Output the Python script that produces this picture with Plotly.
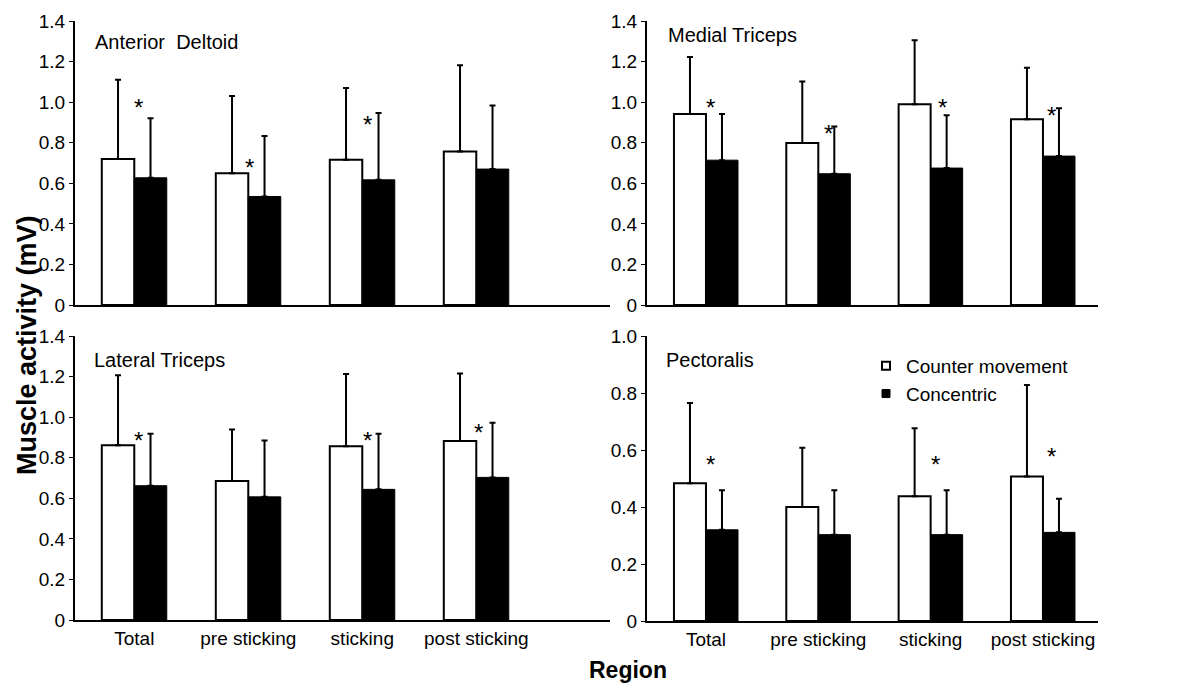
import plotly.graph_objects as go

# ---------------- data ----------------
regions = ["Total", "pre sticking", "sticking", "post sticking"]
muscles = ["Anterior\u00a0 Deltoid", "Medial Triceps", "Lateral Triceps", "Pectoralis"]

# Counter movement (white) means and upper SD, Concentric (black) means and upper SD
ad_cm = [0.72, 0.65, 0.716, 0.757]
ad_cm_sd = [0.39, 0.38, 0.354, 0.425]
ad_con = [0.627, 0.535, 0.617, 0.670]
ad_con_sd = [0.294, 0.298, 0.330, 0.314]

mt_cm = [0.942, 0.798, 0.990, 0.916]
mt_cm_sd = [0.280, 0.304, 0.315, 0.253]
mt_con = [0.714, 0.647, 0.675, 0.734]
mt_con_sd = [0.227, 0.233, 0.261, 0.236]

lt_cm = [0.862, 0.685, 0.856, 0.883]
lt_cm_sd = [0.345, 0.254, 0.357, 0.332]
lt_con = [0.662, 0.607, 0.644, 0.703]
lt_con_sd = [0.256, 0.278, 0.274, 0.269]

pe_cm = [0.483, 0.400, 0.438, 0.507]
pe_cm_sd = [0.282, 0.208, 0.238, 0.321]
pe_con = [0.320, 0.303, 0.303, 0.311]
pe_con_sd = [0.139, 0.156, 0.156, 0.118]

# significance markers: region index, star height, small shift along the category
ad_star_idx = [0, 1, 2]
ad_star_y = [1.01, 0.714, 0.926]
ad_star_dx = [0.04, 0.015, 0.047]
mt_star_idx = [0, 1, 2, 3]
mt_star_y = [1.01, 0.882, 1.01, 0.969]
mt_star_dx = [0.04, 0.09, 0.11, 0.076]
lt_star_idx = [0, 2, 3]
lt_star_y = [0.92, 0.92, 0.96]
lt_star_dx = [0.04, 0.046, 0.018]
pe_star_idx = [0, 2, 3]
pe_star_y = [0.575, 0.575, 0.603]
pe_star_dx = [0.04, 0.044, 0.076]

y_ticks_14 = [0, 0.2, 0.4, 0.6, 0.8, 1.0, 1.2, 1.4]
y_text_14 = ["0", "0.2", "0.4", "0.6", "0.8", "1.0", "1.2", "1.4"]
y_ticks_10 = [0, 0.2, 0.4, 0.6, 0.8, 1.0]
y_text_10 = ["0", "0.2", "0.4", "0.6", "0.8", "1.0"]

# ---------------- figure ----------------
W, H = 1198, 684
OX, OY = 8, 8  # page body margin compensation
FONT = "Arial, Liberation Sans, sans-serif"
BW = 0.285


def px_x(p):
    return (p - OX) / W


def px_y(p):
    return 1 - (p - OY) / H


panels = [
    (ad_cm, ad_cm_sd, ad_con, ad_con_sd, ad_star_idx, ad_star_y, ad_star_dx),
    (mt_cm, mt_cm_sd, mt_con, mt_con_sd, mt_star_idx, mt_star_y, mt_star_dx),
    (lt_cm, lt_cm_sd, lt_con, lt_con_sd, lt_star_idx, lt_star_y, lt_star_dx),
    (pe_cm, pe_cm_sd, pe_con, pe_con_sd, pe_star_idx, pe_star_y, pe_star_dx),
]

# pixel boxes: (x0, x1, ytop, ybottom)
boxes = [(75, 610, 21, 305), (647, 1098, 21, 305), (75, 610, 336, 620), (647, 1098, 336, 621)]
xranges = [[-0.52, 4.173], [-0.525, 3.49], [-0.52, 4.173], [-0.525, 3.49]]
yranges = [[0, 1.4], [0, 1.4], [0, 1.4], [0, 1.0]]

fig = go.Figure()
xcat = list(range(len(regions)))
annotations = []

for i, (cm, cmsd, con, consd, sidx, sy, sdx) in enumerate(panels):
    n = i + 1
    xa = "x" if n == 1 else f"x{n}"
    ya = "y" if n == 1 else f"y{n}"
    fig.add_trace(go.Bar(
        x=xcat, y=cm, width=BW, offset=-BW, xaxis=xa, yaxis=ya,
        marker=dict(color="white", line=dict(color="black", width=2)),
        error_y=dict(type="data", symmetric=False, array=cmsd, arrayminus=[0] * len(cm),
                     color="black", thickness=2, width=3),
        showlegend=False, name="Counter movement"))
    fig.add_trace(go.Bar(
        x=xcat, y=con, width=BW, offset=0, xaxis=xa, yaxis=ya,
        marker=dict(color="black", line=dict(color="black", width=1)),
        error_y=dict(type="data", symmetric=False, array=consd, arrayminus=[0] * len(con),
                     color="black", thickness=2, width=3),
        showlegend=False, name="Concentric"))
    for k, yv, dx in zip(sidx, sy, sdx):
        annotations.append(dict(x=xcat[k] + dx, y=yv, xref=xa, yref=ya, text="*",
                                showarrow=False, font=dict(size=24, color="black", family=FONT),
                                xanchor="center", yanchor="middle", yshift=-7))
    x0, x1, yt, yb = boxes[i]
    bottom = n >= 3
    ticks14 = yranges[i][1] > 1.2
    fig.update_layout(**{
        ("xaxis" if n == 1 else f"xaxis{n}"): dict(
            domain=[px_x(x0), px_x(x1)], range=xranges[i], anchor=ya,
            showline=True, linecolor="black", linewidth=2, showgrid=False, zeroline=False,
            tickmode="array", tickvals=xcat, ticktext=regions if bottom else [""] * 4,
            ticks="", showticklabels=bottom,
            tickfont=dict(size=19, color="black", family=FONT)),
        ("yaxis" if n == 1 else f"yaxis{n}"): dict(
            domain=[px_y(yb), px_y(yt)], range=yranges[i], anchor=xa,
            showline=True, linecolor="black", linewidth=2, showgrid=False, zeroline=False,
            tickmode="array",
            tickvals=y_ticks_14 if ticks14 else y_ticks_10,
            ticktext=y_text_14 if ticks14 else y_text_10,
            ticks="outside", ticklen=4, tickwidth=1, tickcolor="black",
            tickfont=dict(size=19, color="black", family=FONT)),
    })

# panel titles
title_pos = [(93, 42), (666, 35), (92, 360), (664, 360)]
for name, (px, py) in zip(muscles, title_pos):
    annotations.append(dict(x=px_x(px), y=px_y(py), xref="paper", yref="paper", text=name,
                            showarrow=False, xanchor="left", yanchor="middle",
                            font=dict(size=20, color="black", family=FONT)))

annotations.append(dict(x=px_x(27), y=px_y(345), xref="paper", yref="paper",
                        text="<b>Muscle activity (mV)</b>", textangle=-90, showarrow=False,
                        xanchor="center", yanchor="middle", borderpad=0,
                        font=dict(size=27, color="black", family=FONT)))
annotations.append(dict(x=px_x(628), y=px_y(670), xref="paper", yref="paper",
                        text="<b>Region</b>", showarrow=False, xanchor="center", yanchor="middle",
                        font=dict(size=23, color="black", family=FONT)))

# legend entries
fig.add_trace(go.Scatter(x=[None], y=[None], xaxis="x4", yaxis="y4", mode="markers",
                         name="Counter movement",
                         marker=dict(symbol="square", size=8, color="white",
                                     line=dict(color="black", width=2))))
fig.add_trace(go.Scatter(x=[None], y=[None], xaxis="x4", yaxis="y4", mode="markers",
                         name="Concentric",
                         marker=dict(symbol="square", size=8, color="black",
                                     line=dict(color="black", width=1))))

fig.update_layout(
    width=W, height=H, margin=dict(l=0, r=0, t=0, b=0, autoexpand=False),
    paper_bgcolor="white", plot_bgcolor="white",
    barmode="overlay",
    font=dict(family=FONT, color="black"),
    annotations=annotations,
    legend=dict(x=px_x(866), y=px_y(347), xanchor="left", yanchor="top",
                bgcolor="rgba(0,0,0,0)", font=dict(size=19, color="black", family=FONT),
                itemwidth=30, tracegroupgap=0),
)

fig.write_html("out.html")
